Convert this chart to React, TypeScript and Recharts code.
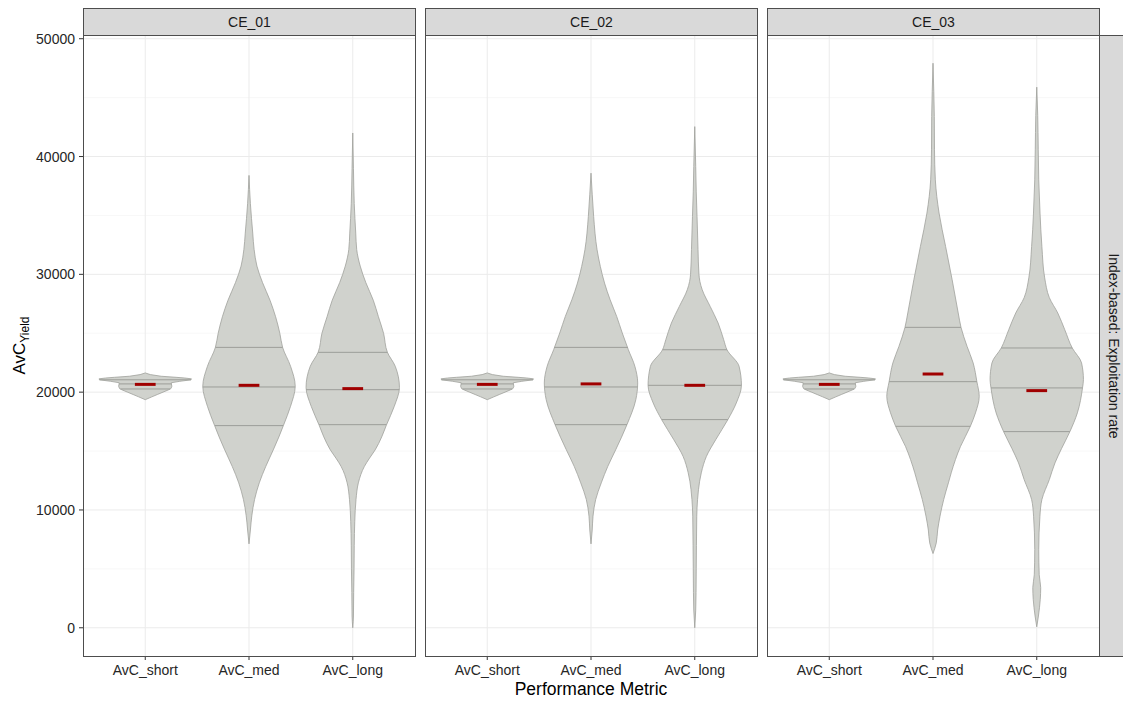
import React from "react";
import { ComposedChart, Area, XAxis, YAxis, CartesianGrid, ReferenceLine, Label } from "recharts";

const PANELS = ["CE_01", "CE_02", "CE_03"];
const METRICS = ["AvC_short", "AvC_med", "AvC_long"];
const METRIC_POS = [1, 2, 3];
const Y_TICKS = [0, 10000, 20000, 30000, 40000, 50000];
const Y_MINOR = [5000, 15000, 25000, 35000, 45000];
const ROW_LABEL = "Index-based: Exploitation rate";

// violin outlines: [AvC value, width relative to the widest violin]
const SHORT = [
  [19360, 0], [19600, 0.14], [19800, 0.26], [20000, 0.38], [20200, 0.5], [20300, 0.55],
  [20500, 0.57], [20700, 0.56], [20800, 0.56], [20920, 0.74], [21050, 0.98], [21130, 0.99],
  [21200, 0.85], [21260, 0.66], [21350, 0.34], [21490, 0.11], [21630, 0],
];
const CE01_MED = [
  [7120, 0], [8300, 0.03], [9500, 0.06], [10900, 0.12], [12300, 0.22], [13700, 0.36],
  [15100, 0.52], [16200, 0.64], [17200, 0.74], [18800, 0.89], [20500, 0.99], [22200, 0.89],
  [23800, 0.72], [25000, 0.66], [26400, 0.57], [27800, 0.45], [29300, 0.29], [30700, 0.17],
  [32100, 0.11], [33500, 0.08], [36000, 0.03], [38400, 0],
];
const CE01_LONG = [
  [0, 0], [1000, 0.015], [3000, 0.02], [5000, 0.028], [7000, 0.032], [9000, 0.043],
  [10900, 0.07], [12300, 0.12], [13700, 0.25], [14400, 0.36], [15100, 0.48], [16200, 0.62],
  [17200, 0.72], [18800, 0.89], [20400, 1.0], [22200, 0.91], [23400, 0.74], [25000, 0.66],
  [26400, 0.55], [27800, 0.44], [29300, 0.28], [30700, 0.16], [32100, 0.085], [33500, 0.064],
  [36000, 0.032], [39000, 0.015], [42000, 0],
];
const CE02_MED = [
  [7120, 0], [8300, 0.026], [9470, 0.043], [10880, 0.1], [12300, 0.22], [13700, 0.36],
  [15120, 0.53], [17240, 0.77], [19360, 0.96], [20780, 1.0], [22190, 0.94], [23600, 0.8],
  [25020, 0.67], [26430, 0.55], [27840, 0.41], [29260, 0.29], [30670, 0.2], [32090, 0.13],
  [34910, 0.057], [36800, 0.026], [38590, 0],
];
const CE02_LONG = [
  [0, 0], [1500, 0.021], [3000, 0.028], [5000, 0.032], [7000, 0.036], [9470, 0.043],
  [10880, 0.06], [11730, 0.08], [13150, 0.14], [14550, 0.25], [15970, 0.45], [17670, 0.71],
  [19080, 0.89], [20580, 1.0], [22190, 0.95], [23600, 0.69], [24450, 0.62], [25870, 0.5],
  [27280, 0.33], [28690, 0.16], [29400, 0.11], [30000, 0.09], [32100, 0.07], [34900, 0.049],
  [37000, 0.032], [39150, 0.021], [42540, 0],
];
const CE03_MED = [
  [6300, 0], [7200, 0.07], [8300, 0.1], [9470, 0.15], [10900, 0.23], [12300, 0.33],
  [13150, 0.39], [15400, 0.59], [17100, 0.8], [18240, 0.91], [19650, 0.99], [20890, 0.94],
  [22480, 0.86], [23880, 0.73], [25500, 0.6], [26720, 0.54], [29540, 0.41], [32370, 0.27],
  [35200, 0.13], [38020, 0.05], [40570, 0.032], [43390, 0.028], [45500, 0.017], [47920, 0],
];
const CE03_LONG = [
  [80, 0], [1000, 0.036], [2400, 0.075], [3400, 0.085], [4500, 0.053], [6640, 0.043],
  [9470, 0.068], [10880, 0.11], [12580, 0.27], [13990, 0.39], [15200, 0.53], [16650, 0.71],
  [18240, 0.87], [20360, 0.98], [21060, 1.0], [22480, 0.96], [23750, 0.76], [25300, 0.6],
  [26720, 0.45], [28020, 0.27], [29700, 0.17], [32370, 0.11], [35200, 0.07], [38020, 0.043],
  [40570, 0.032], [43500, 0.021], [45890, 0],
];

// 25 / 50 / 75 % lines: [value, relative width]
const SHORT_Q = [[20270, 0.53], [20700, 0.56], [21050, 0.98]];
const CE01_MED_Q = [[17160, 0.73], [20440, 0.99], [23800, 0.72]];
const CE01_LONG_Q = [[17240, 0.72], [20210, 1.0], [23380, 0.74]];
const CE02_MED_Q = [[17240, 0.77], [20440, 1.0], [23800, 0.79]];
const CE02_LONG_Q = [[17670, 0.71], [20580, 1.0], [23600, 0.69]];
const CE03_MED_Q = [[17100, 0.8], [20890, 0.94], [25500, 0.6]];
const CE03_LONG_Q = [[16650, 0.71], [20360, 0.98], [23750, 0.76]];

// red marks
const CE01_MEANS = [20660, 20580, 20300];
const CE02_MEANS = [20660, 20700, 20580];
const CE03_MEANS = [20660, 21540, 20130];

const OUTLINES = [
  [SHORT, CE01_MED, CE01_LONG],
  [SHORT, CE02_MED, CE02_LONG],
  [SHORT, CE03_MED, CE03_LONG],
];
const QUANTILES = [
  [SHORT_Q, CE01_MED_Q, CE01_LONG_Q],
  [SHORT_Q, CE02_MED_Q, CE02_LONG_Q],
  [SHORT_Q, CE03_MED_Q, CE03_LONG_Q],
];
const MEANS = [CE01_MEANS, CE02_MEANS, CE03_MEANS];

const FONT = '"Liberation Sans", Arial, Helvetica, sans-serif';
const PLOT_TOP = 35;
const PLOT_H = 621;
const PANEL_W = 332;
const PANEL_LEFT = [83, 425, 767];
const HALF = 0.45;
const MEAN_HALF = 0.1;
const Y_DOMAIN = [-2396, 50316];
const X_DOMAIN = [0.4, 3.6];

const FILL = "#d0d2cd";
const EDGE = "#9fa19c";
const QLINE = "#9c9e99";
const BORDER = "#4d4d4d";
const STRIP = "#d9d9d9";

function YTitle(props: any) {
  const vb = props.viewBox;
  const cy = vb.y + vb.height / 2;
  return (
    <text transform={`translate(25, ${cy}) rotate(-90)`} textAnchor="middle" fill="#000" fontFamily={FONT}>
      <tspan fontSize={17}>AvC</tspan>
      <tspan fontSize={12} dy={3.5}>Yield</tspan>
    </text>
  );
}

function XTitle(props: any) {
  const vb = props.viewBox;
  return (
    <text x={vb.x + vb.width / 2} y={vb.y + 39} textAnchor="middle" fontSize={17.5} fill="#000" fontFamily={FONT}>
      Performance Metric
    </text>
  );
}

function Panel({ idx }: { idx: number }) {
  const first = idx === 0;
  const yAxisW = first ? PANEL_LEFT[0] : 0;
  const left = first ? 0 : PANEL_LEFT[idx];
  const width = yAxisW + PANEL_W + 1;
  const tickStyle = { fontSize: 14, fill: "#262626", fontFamily: FONT };

  return (
    <div style={{ position: "absolute", left, top: 0 }}>
      <ComposedChart
        layout="vertical"
        width={width}
        height={704}
        margin={{ top: PLOT_TOP, right: 1, bottom: 0, left: 0 }}
      >
        <CartesianGrid horizontalValues={Y_MINOR} vertical={false} stroke="#f4f4f4" strokeWidth={0.6} />
        <CartesianGrid horizontalValues={Y_TICKS} verticalValues={METRIC_POS} stroke="#ebebeb" strokeWidth={1} />
        <XAxis
          type="number"
          domain={X_DOMAIN}
          ticks={METRIC_POS}
          interval={0}
          allowDataOverflow
          tickFormatter={(t: number) => METRICS[t - 1]}
          height={704 - PLOT_TOP - PLOT_H}
          axisLine={false}
          tickSize={4}
          tickMargin={5}
          tickLine={{ stroke: "#333" }}
          tick={tickStyle}
        >
          {idx === 1 && <Label content={XTitle} />}
        </XAxis>
        <YAxis
          type="number"
          dataKey="v"
          domain={Y_DOMAIN}
          allowDataOverflow
          reversed
          ticks={Y_TICKS}
          interval={0}
          hide={!first}
          width={yAxisW || 60}
          axisLine={false}
          tickSize={4}
          tickMargin={4}
          tickLine={{ stroke: "#333" }}
          tick={tickStyle}
        >
          {first && <Label content={YTitle} />}
        </YAxis>

        {OUTLINES[idx].map((outline, m) => {
          const pos = METRIC_POS[m];
          const rows = outline.map(([v, d]) => ({ v, band: [pos - d * HALF, pos + d * HALF] }));
          return (
            <Area
              key={`violin-${m}`}
              data={rows}
              dataKey="band"
              type={m === 0 ? "linear" : "monotone"}
              fill={FILL}
              fillOpacity={1}
              stroke={EDGE}
              strokeWidth={0.8}
              dot={false}
              activeDot={false}
              isAnimationActive={false}
            />
          );
        })}

        {QUANTILES[idx].map((qs, m) =>
          qs.map(([v, d], k) => (
            <ReferenceLine
              key={`q-${m}-${k}`}
              segment={[
                { x: METRIC_POS[m] - d * HALF, y: v },
                { x: METRIC_POS[m] + d * HALF, y: v },
              ]}
              stroke={QLINE}
              strokeWidth={1}
            />
          ))
        )}

        {MEANS[idx].map((v, m) => (
          <ReferenceLine
            key={`mean-${m}`}
            segment={[
              { x: METRIC_POS[m] - MEAN_HALF, y: v },
              { x: METRIC_POS[m] + MEAN_HALF, y: v },
            ]}
            stroke="#a00000"
            strokeWidth={3}
          />
        ))}
      </ComposedChart>
    </div>
  );
}

export default function App() {
  return (
    <div
      style={{
        position: "fixed",
        left: 0,
        top: 0,
        width: 1123,
        height: 704,
        overflow: "hidden",
        background: "#fff",
        fontFamily: FONT,
      }}
    >
      {PANELS.map((name, i) => (
        <Panel key={name} idx={i} />
      ))}

      {PANELS.map((name, i) => (
        <div
          key={`strip-${name}`}
          style={{
            position: "absolute",
            left: PANEL_LEFT[i],
            top: 8,
            width: PANEL_W + 1,
            height: PLOT_TOP - 8 + 1,
            boxSizing: "border-box",
            background: STRIP,
            border: `1px solid ${BORDER}`,
            display: "flex",
            alignItems: "center",
            justifyContent: "center",
            fontSize: 14,
            color: "#1a1a1a",
          }}
        >
          {name}
        </div>
      ))}

      {PANELS.map((name, i) => (
        <div
          key={`border-${name}`}
          style={{
            position: "absolute",
            left: PANEL_LEFT[i],
            top: PLOT_TOP,
            width: PANEL_W + 1,
            height: PLOT_H + 1,
            boxSizing: "border-box",
            border: `1px solid ${BORDER}`,
            pointerEvents: "none",
          }}
        />
      ))}

      <div
        style={{
          position: "absolute",
          left: PANEL_LEFT[2] + PANEL_W,
          top: PLOT_TOP,
          width: 30,
          height: PLOT_H + 1,
          boxSizing: "border-box",
          background: STRIP,
          border: `1px solid ${BORDER}`,
        }}
      >
        <span
          style={{
            position: "absolute",
            left: 14,
            top: "50%",
            transform: "translate(-50%, -50%) rotate(90deg)",
            whiteSpace: "nowrap",
            fontSize: 14,
            color: "#1a1a1a",
          }}
        >
          {ROW_LABEL}
        </span>
      </div>
    </div>
  );
}
